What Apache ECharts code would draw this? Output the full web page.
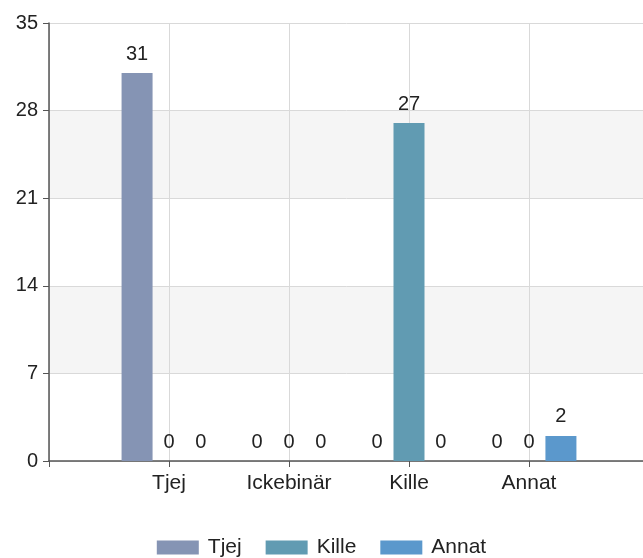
<!DOCTYPE html>
<html>
<head>
<meta charset="utf-8">
<script src="https://cdn.jsdelivr.net/npm/echarts@6/dist/echarts.min.js"></script>
<style>
  html, body { margin: 0; padding: 0; background: #fff; overflow: hidden; }
  #chart { width: 643px; height: 558px; }
</style>
</head>
<body>
<div id="chart"></div>
<script>
const categories = ['Tjej', 'Ickebinär', 'Kille', 'Annat'];
const tjejValues = [31, 0, 0, 0];
const killeValues = [0, 0, 27, 0];
const annatValues = [0, 0, 0, 2];
const yTicks = [0, 7, 14, 21, 28, 35];

// the axis in the original starts one slot before the first group and runs off the right edge
const pad = arr => [null].concat(arr, [null]);
const axisCats = [''].concat(categories, ['']);

const textColor = '#222';
const font = 'Liberation Sans, Arial, sans-serif';

function barSeries(name, values, color) {
  return {
    name: name,
    type: 'bar',
    data: pad(values),
    barWidth: 31,
    barGap: '3%',
    itemStyle: { color: color },
    label: {
      show: true,
      position: 'top',
      distance: 9,
      color: textColor,
      fontSize: 20,
      fontFamily: font
    }
  };
}

const chart = echarts.init(document.getElementById('chart'), null, { renderer: 'canvas' });
chart.setOption({
  animation: false,
  backgroundColor: '#fff',
  textStyle: { fontFamily: font },
  grid: { left: 49, width: 600, top: 23, bottom: 97, containLabel: false, outerBoundsMode: 'none' },
  legend: {
    bottom: -5,
    left: 'center',
    itemWidth: 42,
    itemHeight: 14,
    itemGap: 24,
    icon: 'rect',
    textStyle: { color: textColor, fontSize: 21, fontFamily: font, padding: [0, 0, 0, 4] },
    data: ['Tjej', 'Kille', 'Annat']
  },
  xAxis: {
    type: 'category',
    data: axisCats,
    boundaryGap: false,
    axisLine: { lineStyle: { color: '#555', width: 1.5 } },
    axisTick: { show: true, length: 6, lineStyle: { color: '#555' } },
    axisLabel: { color: textColor, fontSize: 21, margin: 12, fontFamily: font },
    splitLine: { show: true, lineStyle: { color: '#d9d9d9' } }
  },
  yAxis: {
    type: 'value',
    min: yTicks[0],
    max: yTicks[yTicks.length - 1],
    interval: 7,
    axisLine: { show: true, lineStyle: { color: '#555', width: 1.5 } },
    axisTick: { show: true, length: 6, lineStyle: { color: '#555' } },
    axisLabel: { color: textColor, fontSize: 20, margin: 11, fontFamily: font },
    splitLine: { show: true, lineStyle: { color: '#d9d9d9' } },
    splitArea: { show: true, areaStyle: { color: ['#ffffff', '#f5f5f5'] } }
  },
  series: [
    barSeries('Tjej', tjejValues, '#8594b4'),
    barSeries('Kille', killeValues, '#619bb2'),
    barSeries('Annat', annatValues, '#5b98cc')
  ]
});
</script>
</body>
</html>
